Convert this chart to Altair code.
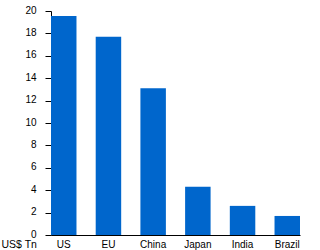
import altair as alt
import pandas as pd

countries = ["US", "EU", "China", "Japan", "India", "Brazil"]
gdp = [19.55, 17.7, 13.1, 4.3, 2.6, 1.7]
y_ticks = [0, 2, 4, 6, 8, 10, 12, 14, 16, 18, 20]

df = pd.DataFrame({"country": countries, "value": gdp})

FONT = "Liberation Sans"

chart = alt.Chart(df).mark_bar(color="#0066CC").encode(
    x=alt.X("country:N", sort=countries,
            scale=alt.Scale(paddingInner=0.43, paddingOuter=0),
            axis=alt.Axis(title=None, labelAngle=0, ticks=False, domainColor="black",
                          labelColor="black", labelFont=FONT, labelFontSize=10,
                          labelPadding=4)),
    y=alt.Y("value:Q", scale=alt.Scale(domain=[0, 20], nice=False),
            axis=alt.Axis(values=y_ticks, title="US$ Tn", grid=False, tickSize=6,
                          tickColor="black", domainColor="black", labelColor="black",
                          labelFont=FONT, labelFontSize=10, labelPadding=9, labelOffset=-1,
                          titleAngle=0, titleAlign="left", titleBaseline="bottom",
                          titleX=-50, titleY=238.5, titleFont=FONT, titleFontSize=10.5,
                          titleFontWeight="normal", titleColor="black")),
).properties(
    width=249, height=224,
    autosize=alt.AutoSizeParams(type="none"),
    padding={"left": 51, "top": 11, "right": 20, "bottom": 15},
).configure(background="white", view=alt.ViewConfig(stroke=None, strokeWidth=0))

chart.save("out.html", embed_options={"renderer": "svg", "actions": False})
